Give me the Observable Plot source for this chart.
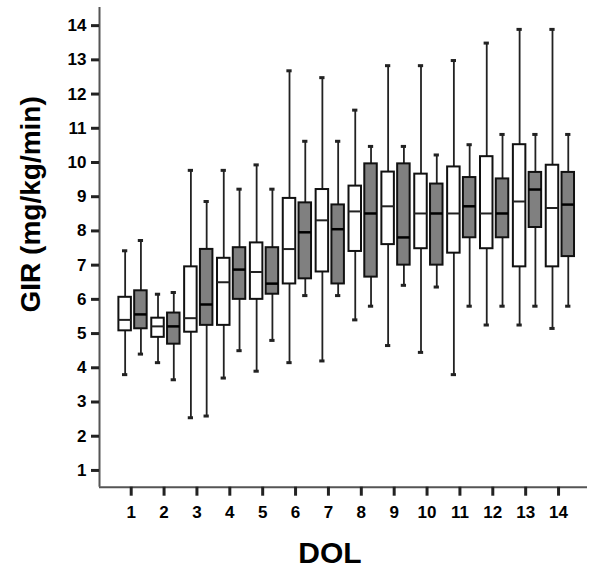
<!DOCTYPE html>
<html><head><meta charset="utf-8">
<script src="https://cdn.jsdelivr.net/npm/d3@7"></script>
<script src="https://cdn.jsdelivr.net/npm/@observablehq/plot@0.6"></script>
<style>body{margin:0;background:#fff}#chart{width:600px;height:582px}</style>
</head><body><div id="chart"></div>
<script>
// Day of life categories
const dol = [1,2,3,4,5,6,7,8,9,10,11,12,13,14];
// Group A (white boxes): min, Q1, median, Q3, max
const whiteMin = [3.80,4.15,2.54,3.70,3.90,4.15,4.20,5.40,4.65,4.45,3.80,5.25,5.25,5.15];
const whiteQ1  = [5.08,4.89,5.04,5.24,6.00,6.45,6.80,7.40,7.60,7.48,7.35,7.48,6.95,6.95];
const whiteMed = [5.40,5.21,5.45,6.50,6.80,7.47,8.31,8.57,8.72,8.51,8.51,8.51,8.86,8.67];
const whiteQ3  = [6.06,5.45,6.95,7.20,7.65,8.95,9.21,9.31,9.72,9.66,9.87,10.17,10.52,9.92];
const whiteMax = [7.42,6.15,9.77,9.77,9.93,12.68,12.48,11.53,12.83,12.83,12.98,13.49,13.89,13.89];
// Group B (gray boxes)
const grayMin = [4.40,3.65,2.59,4.50,4.80,6.11,6.11,5.80,6.41,6.36,5.80,5.80,5.80,5.80];
const grayQ1  = [5.14,4.69,5.24,6.00,6.15,6.60,6.45,6.65,7.00,7.00,7.80,7.80,8.10,7.25];
const grayMed = [5.56,5.21,5.85,6.87,6.46,7.96,8.05,8.51,7.81,8.51,8.72,8.51,9.21,8.77];
const grayQ3  = [6.25,5.60,7.46,7.51,7.51,8.82,8.76,9.96,9.96,9.37,9.56,9.52,9.71,9.71];
const grayMax = [7.72,6.20,8.86,9.22,9.22,10.62,10.62,10.47,10.47,10.22,10.52,10.82,10.82,10.82];
// Tick labels
const xTicks = [1,2,3,4,5,6,7,8,9,10,11,12,13,14];
const yTicks = [1,2,3,4,5,6,7,8,9,10,11,12,13,14];

const rows = [];
dol.forEach((d, i) => {
  rows.push({dol: d, group: "A", min: whiteMin[i], q1: whiteQ1[i], med: whiteMed[i], q3: whiteQ3[i], max: whiteMax[i]});
  rows.push({dol: d, group: "B", min: grayMin[i], q1: grayQ1[i], med: grayMed[i], q3: grayQ3[i], max: grayMax[i]});
});

// layout settings
const xDomain = [-0.025, 14.82];
const yDomain = [0.51, 14.53];
const off = {A: -0.245, B: 0.235};
const half = 0.19, cap = 0.08;
const cx = d => d.dol + off[d.group];

const chart = Plot.plot({
  width: 600, height: 582,
  marginLeft: 99, marginRight: 13, marginTop: 7, marginBottom: 95.3,
  x: {domain: xDomain},
  y: {domain: yDomain},
  style: {fontFamily: "'Liberation Sans', Arial, sans-serif", background: "white", color: "black"},
  marks: [
    Plot.ruleX(rows, {x: cx, y1: "min", y2: "max", stroke: "#222", strokeWidth: 1.8}),
    Plot.ruleY(rows, {x1: d => cx(d) - cap, x2: d => cx(d) + cap, y: "min", stroke: "#222", strokeWidth: 3}),
    Plot.ruleY(rows, {x1: d => cx(d) - cap, x2: d => cx(d) + cap, y: "max", stroke: "#222", strokeWidth: 3}),
    Plot.rect(rows.filter(d => d.group === "A"), {x1: d => cx(d) - half, x2: d => cx(d) + half, y1: "q1", y2: "q3", fill: "white", stroke: "#111", strokeWidth: 2}),
    Plot.rect(rows.filter(d => d.group === "B"), {x1: d => cx(d) - half, x2: d => cx(d) + half, y1: "q1", y2: "q3", fill: "#808080", stroke: "#111", strokeWidth: 2}),
    Plot.ruleY(rows.filter(d => d.group === "A"), {x1: d => cx(d) - half, x2: d => cx(d) + half, y: "med", stroke: "#222", strokeWidth: 2}),
    Plot.ruleY(rows.filter(d => d.group === "B"), {x1: d => cx(d) - half, x2: d => cx(d) + half, y: "med", stroke: "#000", strokeWidth: 2.5}),
    Plot.ruleX([xDomain[0]], {stroke: "#555", strokeWidth: 2}),
    Plot.ruleY([yDomain[0]], {stroke: "#555", strokeWidth: 2}),
    Plot.axisY({ticks: yTicks, tickSize: 8, tickPadding: 5, strokeWidth: 3, stroke: "#222", fontSize: 17, fontWeight: "bold", label: null, tickFormat: d => d}),
    Plot.axisX({ticks: xTicks, tickSize: 9, tickPadding: 10, strokeWidth: 3, stroke: "#222", fontSize: 17, fontWeight: "bold", label: null, tickFormat: d => d, dx: -2}),
    Plot.text(["GIR (mg/kg/min)"], {text: d => d, frameAnchor: "left", textAnchor: "middle", rotate: -90, dx: -68, dy: -43, fontSize: 28, fontWeight: "bold"}),
    Plot.text(["DOL"], {text: d => d, frameAnchor: "bottom", textAnchor: "middle", dx: -13.5, dy: 75.7, fontSize: 30, fontWeight: "bold"})
  ]
});
document.getElementById("chart").append(chart);
</script>
</body></html>
